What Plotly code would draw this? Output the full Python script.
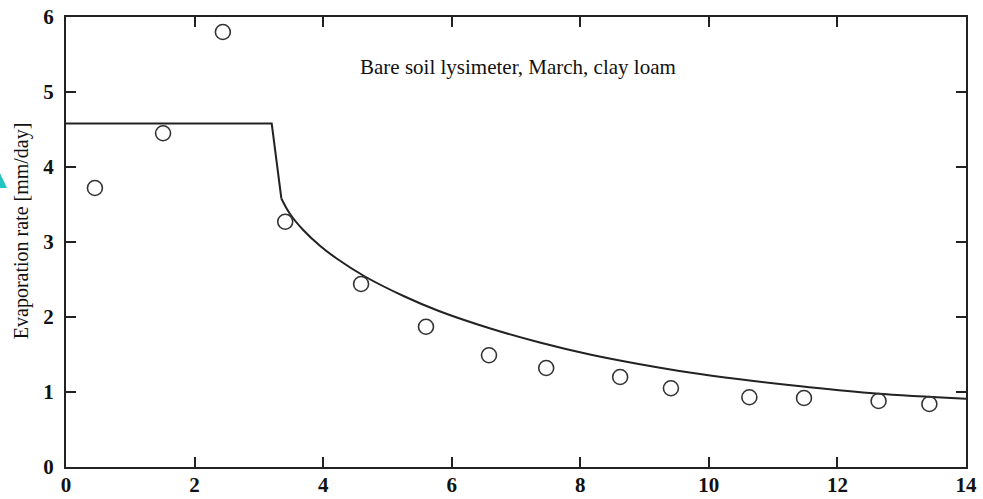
import plotly.graph_objects as go

# Observed lysimeter data (circles)
obs_day = [0.45, 1.51, 2.44, 3.41, 4.59, 5.60, 6.58, 7.47, 8.62, 9.41, 10.63, 11.48, 12.64, 13.43]
obs_rate = [3.72, 4.45, 5.80, 3.27, 2.44, 1.87, 1.49, 1.32, 1.20, 1.05, 0.93, 0.92, 0.88, 0.84]

# Model curve: constant-rate stage, then falling-rate stage
stage1_day = [0.0, 3.20, 3.35]
stage1_rate = [4.58, 4.58, 3.58]
stage2_day = [3.35, 3.48, 3.69, 3.95, 4.21, 4.65, 5.25, 5.80, 6.59, 7.37, 8.15, 8.93,
              9.70, 10.48, 11.5, 12.6, 14.0]
stage2_rate = [3.58, 3.38, 3.16, 2.95, 2.78, 2.54, 2.28, 2.08, 1.85, 1.66, 1.50, 1.37,
               1.26, 1.17, 1.07, 0.98, 0.91]

x_ticks = [0, 2, 4, 6, 8, 10, 12, 14]
y_ticks = [0, 1, 2, 3, 4, 5, 6]

title_text = "Bare soil lysimeter, March, clay loam"
y_label = "Evaporation rate [mm/day]"

ink = "#222222"
serif = "Liberation Serif, Times New Roman, serif"

fig = go.Figure()
fig.add_trace(go.Scatter(x=stage1_day, y=stage1_rate, mode="lines",
                         line=dict(color=ink, width=2), showlegend=False))
fig.add_trace(go.Scatter(x=stage2_day, y=stage2_rate, mode="lines",
                         line=dict(color=ink, width=2, shape="spline", smoothing=1.0),
                         showlegend=False))
fig.add_trace(go.Scatter(x=obs_day, y=obs_rate, mode="markers",
                         marker=dict(symbol="circle-open", size=15, color="#333333",
                                     line=dict(width=1.6, color="#333333")),
                         showlegend=False))

axis_common = dict(showgrid=False, zeroline=False, showline=True, linecolor=ink,
                   linewidth=2, mirror="allticks", ticks="inside", ticklen=10,
                   tickwidth=2, tickcolor=ink, automargin=False,
                   tickfont=dict(family=serif, size=21, color="#111111", weight="bold"))

fig.update_xaxes(range=[0, 14], tickvals=x_ticks, ticktext=[str(v) for v in x_ticks],
                 ticklabelstandoff=-2, **axis_common)
fig.update_yaxes(range=[0, 6], tickvals=y_ticks, ticktext=[str(v) for v in y_ticks],
                 ticklabelstandoff=6, **axis_common)

fig.add_annotation(text=title_text, x=0.5025, y=0.889, xref="paper", yref="paper",
                   xanchor="center", yanchor="middle", showarrow=False,
                   font=dict(family=serif, size=21, color="#111111"))
fig.add_annotation(text=y_label, x=-0.05, y=0.524, xref="paper", yref="paper",
                   xanchor="center", yanchor="middle", textangle=-90, showarrow=False,
                   font=dict(family=serif, size=20, color="#111111"))

# small cyan marker at left edge of the page
fig.add_shape(type="path", xref="paper", yref="paper",
              path="M -0.0733 0.653 L -0.0733 0.62 L -0.0655 0.62 Z",
              fillcolor="#22c4c4", line=dict(width=0))

fig.update_layout(width=983, height=499, paper_bgcolor="white", plot_bgcolor="white",
                  margin=dict(l=66, r=17, t=17, b=32))

fig.write_html("out.html")
